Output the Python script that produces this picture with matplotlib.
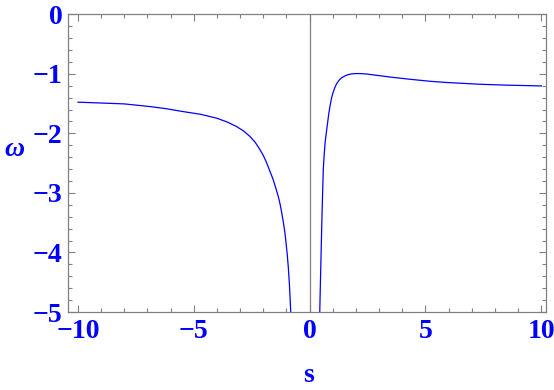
import numpy as np
import matplotlib
matplotlib.use("Agg")
import matplotlib.pyplot as plt
from matplotlib.ticker import MultipleLocator, FixedLocator

# left branch (s < 0)
s_left = [-10.0, -9.0, -8.0, -7.5, -6.89, -6.2, -5.46, -4.7, -4.01, -3.55, -3.15, -2.85,
          -2.58, -2.35, -2.15, -2.0, -1.86, -1.72, -1.57, -1.46, -1.36, -1.28, -1.21, -1.14,
          -1.07, -1.02, -0.97, -0.92, -0.87, -0.82, -0.79]
w_left = [-1.476, -1.49, -1.505, -1.525, -1.55, -1.585, -1.634, -1.68, -1.745, -1.81, -1.886, -1.96,
          -2.05, -2.15, -2.27, -2.37, -2.49, -2.63, -2.78, -2.92, -3.05, -3.18, -3.32, -3.48,
          -3.66, -3.83, -4.02, -4.25, -4.55, -4.96, -5.2]

# right branch (s > 0)
s_right = [0.42, 0.46, 0.52, 0.56, 0.59, 0.63, 0.67, 0.71, 0.75, 0.79, 0.83, 0.89, 0.95,
           1.0, 1.05, 1.1, 1.16, 1.23, 1.3, 1.37, 1.45, 1.55, 1.65, 1.75, 1.85, 1.95,
           2.1, 2.3, 2.5, 2.9, 3.5, 4.3, 5.2, 5.9, 7.35, 8.5, 10.0]
w_right = [-5.3, -4.6, -3.6, -3.0, -2.6, -2.35, -2.15, -2.02, -1.9, -1.78, -1.66, -1.52, -1.40,
           -1.33, -1.27, -1.22, -1.17, -1.13, -1.095, -1.07, -1.05, -1.03, -1.015, -1.005, -1.0, -0.996,
           -0.995, -0.998, -1.005, -1.025, -1.055, -1.09, -1.125, -1.145, -1.175, -1.19, -1.203]

x_ticks = [-10, -5, 0, 5, 10]
y_ticks = [0, -1, -2, -3, -4, -5]

blue = "#0000ff"
grey = "#808080"

fig = plt.figure(figsize=(5.54, 3.90), dpi=100)
ax = fig.add_axes([68 / 554, 78 / 390, (545.7 - 68) / 554, (312 - 14.3) / 390])

ax.axvline(0, color=grey, lw=0.9, zorder=1)
ax.plot(s_left, w_left, color=blue, lw=0.9, zorder=2)
ax.plot(s_right, w_right, color=blue, lw=0.9, zorder=2)

ax.set_xlim(-10.43, 10.19)
ax.set_ylim(-5, 0)

ax.xaxis.set_major_locator(FixedLocator(x_ticks))
ax.yaxis.set_major_locator(FixedLocator(y_ticks))
ax.xaxis.set_minor_locator(MultipleLocator(1))
ax.yaxis.set_minor_locator(MultipleLocator(0.2))

for sp in ax.spines.values():
    sp.set_color(grey)
    sp.set_linewidth(0.9)

ax.tick_params(which="both", direction="in", top=True, right=True, color=grey, width=0.8)
ax.tick_params(which="major", length=5)
ax.tick_params(which="minor", length=3)
ax.tick_params(axis="x", labelcolor=blue, labelsize=20, pad=5)
ax.tick_params(axis="y", labelcolor=blue, labelsize=20, pad=4)

fnt = {"family": "Liberation Serif", "weight": "bold"}
ax.set_xticklabels([str(v).replace("-", "\u2212") for v in x_ticks], fontdict=fnt)
ax.set_yticklabels([str(v).replace("-", "\u2212") for v in y_ticks], fontdict=fnt)

fig.text(309 / 554, 1 - 376 / 390, "s", color=blue, fontsize=20, ha="center", va="center", **fnt)
fig.text(14 / 554, 1 - 150 / 390, "\u03c9", color=blue, fontsize=20, ha="center", va="center",
         family="Liberation Serif", style="italic", weight="bold")

fig.savefig("out.png", dpi=100)
